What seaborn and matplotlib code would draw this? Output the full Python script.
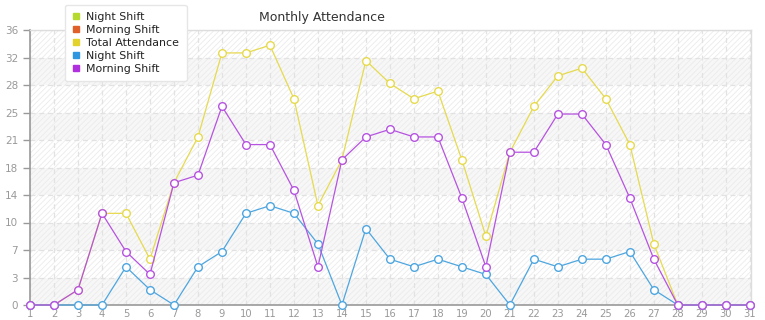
import matplotlib
matplotlib.use("Agg")
import matplotlib.pyplot as plt
import seaborn as sns
import numpy as np
from matplotlib.lines import Line2D

days = list(range(1, 32))
night_shift = [0, 0, 0, 0, 5, 2, 0, 5, 7, 12, 13, 12, 8, 0, 10, 6, 5, 6, 5, 4,
               0, 6, 5, 6, 6, 7, 2, 0, 0, 0, 0]
morning_shift = [0, 0, 2, 12, 7, 4, 16, 17, 26, 21, 21, 15, 5, 19, 22, 23, 22, 22, 14, 5,
                 20, 20, 25, 25, 21, 14, 6, 0, 0, 0, 0]
total_attendance = [0, 0, 2, 12, 12, 6, 16, 22, 33, 33, 34, 27, 13, 19, 32, 29, 27, 28, 19, 9,
                    20, 26, 30, 31, 27, 21, 8, 0, 0, 0, 0]
legend_labels = ["Night Shift", "Morning Shift", "Total Attendance", "Night Shift", "Morning Shift"]
legend_colors = ["#b6d92e", "#e0602c", "#e3d22c", "#2f96e0", "#b030e0"]
title = "Monthly Attendance"

sns.set_theme(style="white")
plt.rcParams['font.family'] = ['DejaVu Sans']
plt.rcParams['hatch.linewidth'] = 0.6

W, H = 765, 320
fig = plt.figure(figsize=(W / 100, H / 100), dpi=100)
ax = fig.add_axes([30 / W, 15 / H, 721 / W, 275 / H])

ymax = 36
step = ymax / 10
for i in range(10):
    fc = "#f7f7f7" if i % 2 == 0 else "#ffffff"
    ax.axhspan(i * step, (i + 1) * step, facecolor=fc, edgecolor="#ebebeb",
               hatch="//////", linewidth=0, zorder=0)

line_colors = ["#e6da4e", "#4ea6e0", "#b653e0"]
series = [total_attendance, night_shift, morning_shift]
for vals, c in zip(series, line_colors):
    sns.lineplot(x=days, y=vals, ax=ax, color=c, linewidth=0.9, marker="o",
                 markersize=5.5, markerfacecolor="white", markeredgecolor=c,
                 markeredgewidth=1.0, zorder=5, clip_on=False)

ax.set_xlim(1, 31.05)
ax.set_ylim(0, ymax)
yt = [i * step for i in range(11)]
ax.set_yticks(yt)
ax.set_yticklabels([str(int(v)) for v in yt])
ax.set_xticks(days)
ax.set_xticklabels([str(d) for d in days])
ax.grid(True, color="#e2e2e2", linestyle=(0, (4, 3)), linewidth=0.9, zorder=1)
ax.set_axisbelow(True)
for s in ["top", "right"]:
    ax.spines[s].set_color("#dddddd")
    ax.spines[s].set_linewidth(1.0)
for s in ["left", "bottom"]:
    ax.spines[s].set_color("#999999")
    ax.spines[s].set_linewidth(1.2)
ax.tick_params(axis="y", which="both", left=True, length=5, width=1, color="#999999",
               labelcolor="#999999", labelsize=7.5, pad=3.5)
ax.tick_params(axis="x", which="both", bottom=True, length=0, labelcolor="#999999",
               labelsize=7.2, pad=3.2)
ax.set_xlabel("")
ax.set_ylabel("")

fig.text(322 / W, 1 - 17 / H, title, ha="center", va="center", fontsize=9, color="#333333")

handles = [Line2D([0], [0], color=c, marker="s", markersize=4.2, linestyle="none")
           for c in legend_colors]
leg = fig.legend(handles, legend_labels, loc="upper left",
                 bbox_to_anchor=(65 / W, 1 - 5 / H), fontsize=7.9, frameon=True,
                 fancybox=True, handlelength=0.7, handletextpad=0.6, labelspacing=0.27,
                 borderpad=0.65, borderaxespad=0)
leg.get_frame().set_facecolor("white")
leg.get_frame().set_edgecolor("#e6e6e6")
leg.get_frame().set_alpha(1)
leg.set_zorder(10)
for t in leg.get_texts():
    t.set_color("#222222")

fig.savefig("out.png", dpi=100)
